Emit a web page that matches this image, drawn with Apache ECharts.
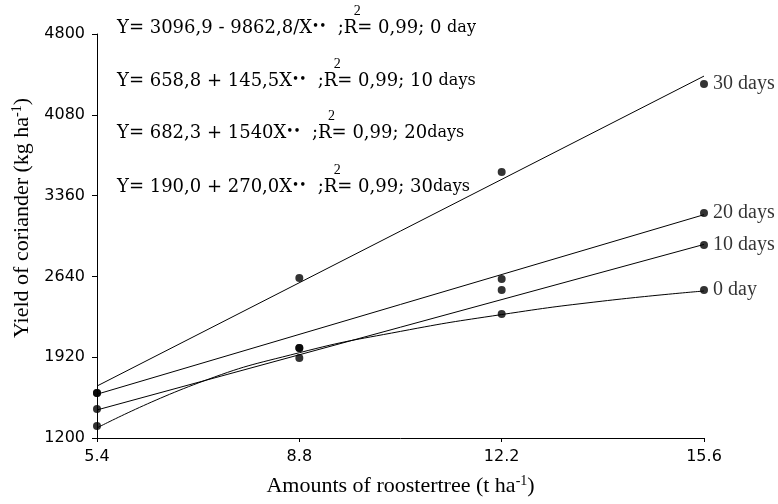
<!DOCTYPE html>
<html>
<head>
<meta charset="utf-8">
<script src="https://cdn.jsdelivr.net/npm/echarts@6/dist/echarts.min.js"></script>
<style>html,body{margin:0;padding:0;background:#fff}#c{width:778px;height:504px}</style>
</head>
<body>
<div id="c"></div>
<script>
// ---- data ----
const xTicks = [5.4, 8.8, 12.2, 15.6];
const yTicks = [1200, 1920, 2640, 3360, 4080, 4800];
const amounts = [5.4, 8.8, 12.2, 15.6];
// observed points
const obs0  = [1307, 2002, 2305, 2519];
const obs10 = [1458, 1913, 2519, 2920];
const obs20 = [1601, 2002, 2617, 3205];
const obs30 = [1601, 2626, 3570, 4354];
// fitted lines
const fitLinX = [5.4, 15.6];
const fit30 = [1663, 4425];
const fit20 = [1590, 3190];
const fit10 = [1450, 2925];
const fit0X = [5.4, 7.1, 8.8, 10.5, 12.2, 13.9, 15.6];
const fit0  = [1290, 1690, 1960, 2150, 2300, 2420, 2510];
const seriesLabels = ['0 day', '10 days', '20 days', '30 days'];
const equations = [
  ['Y= 3096,9 - 9862,8/X', '  ;R', '= 0,99; 0 ', 'day'],
  ['Y= 658,8 + 145,5X', '  ;R', '= 0,99; 10 ', 'days'],
  ['Y= 682,3 + 1540X', '  ;R', '= 0,99; 20', 'days'],
  ['Y= 190,0 + 270,0X', '  ;R', '= 0,99; 30', 'days']
];

const serif = 'Liberation Serif';
const eqFont = 'DejaVu Serif';
const sans = 'DejaVu Sans';
const pairs = (xs, ys) => xs.map((x, i) => [x, ys[i]]);

const chart = echarts.init(document.getElementById('c'), null, {renderer: 'canvas'});

const obsSets = [obs0, obs10, obs20, obs30];

const scatterSeries = obsSets.map((arr, k) => ({
  type: 'scatter',
  symbol: 'circle',
  symbolSize: 8,
  itemStyle: {color: '#000'},
  data: pairs(amounts, arr).map((p, i) => i === amounts.length - 1 ? {
    value: p,
    label: {show: true, position: 'right', distance: 5, formatter: seriesLabels[k],
      fontFamily: serif, fontSize: 20, color: '#000'}
  } : p),
  z: 5
}));

const lineStyle = {color: '#000', width: 1};
const fitSeries = [
  {type: 'line', data: pairs(fit0X, fit0), smooth: true, symbol: 'none', lineStyle},
  {type: 'line', data: pairs(fitLinX, fit10), symbol: 'none', lineStyle},
  {type: 'line', data: pairs(fitLinX, fit20), symbol: 'none', lineStyle},
  {type: 'line', data: pairs(fitLinX, fit30), symbol: 'none', lineStyle}
];

// text measurement for placing the superscript "2" above R
const mctx = document.createElement('canvas').getContext('2d');
function tw(text, size, fam) { mctx.font = size + 'px "' + fam + '"'; return mctx.measureText(text).width; }

const eqRich = {
  t: {fontFamily: eqFont, fontSize: 18, color: '#000'},
  b: {fontFamily: eqFont, fontSize: 12, color: '#000', padding: [0, 0, 3, 0]},
  s: {fontFamily: eqFont, fontSize: 16, color: '#000'}
};
const eqY = [28, 81, 133, 187];
const eqX = 117;
const graphics = [];
equations.forEach((e, i) => {
  graphics.push({
    type: 'text', x: eqX, y: eqY[i],
    style: {text: '{t|' + e[0] + '}{b|••}{t|' + e[1] + e[2] + '}{s|' + e[3] + '}', rich: eqRich, verticalAlign: 'middle'}
  });
  const sx = eqX + tw(e[0], 18, eqFont) + tw('••', 12, eqFont) + tw(e[1], 18, eqFont);
  graphics.push({
    type: 'text', x: sx, y: eqY[i] - 17,
    style: {text: '2', fontFamily: serif, fontSize: 14, fill: '#000', align: 'center', verticalAlign: 'middle'}
  });
});

const nameRich = {
  n: {fontFamily: serif, fontSize: 22, color: '#000'},
  s: {fontFamily: serif, fontSize: 14, color: '#000', verticalAlign: 'top', padding: [0, 0, 10, 0]}
};

chart.setOption({
  animation: false,
  backgroundColor: '#fff',
  grid: {left: 97, right: 74, top: 34, bottom: 66, containLabel: false},
  xAxis: {
    type: 'value', min: 5.4, max: 15.6,
    name: '{n|Amounts of roostertree (t ha}{s|-1}{n|)}',
    nameLocation: 'middle', nameGap: 36,
    nameTextStyle: {rich: nameRich},
    axisLine: {lineStyle: {color: '#000', width: 1}},
    axisTick: {show: true, inside: false, length: 4, customValues: xTicks, lineStyle: {color: '#000'}},
    axisLabel: {customValues: xTicks, formatter: v => v.toFixed(1), fontFamily: sans, fontSize: 16, color: '#000', margin: 11},
    splitLine: {show: false}
  },
  yAxis: {
    type: 'value', min: 1200, max: 4800,
    name: '{n|Yield of coriander (kg ha}{s|-1}{n|)}',
    nameLocation: 'middle', nameGap: 53, nameRotate: 90,
    nameTextStyle: {rich: nameRich, padding: [0, 0, 0, 36]},
    axisLine: {show: true, lineStyle: {color: '#000', width: 1}},
    axisTick: {show: true, length: 5, customValues: yTicks, lineStyle: {color: '#000'}},
    axisLabel: {customValues: yTicks, formatter: v => String(v), fontFamily: sans, fontSize: 16, color: '#000', margin: 12},
    splitLine: {show: false}
  },
  graphic: graphics,
  series: [...fitSeries, ...scatterSeries]
});
</script>
</body>
</html>
